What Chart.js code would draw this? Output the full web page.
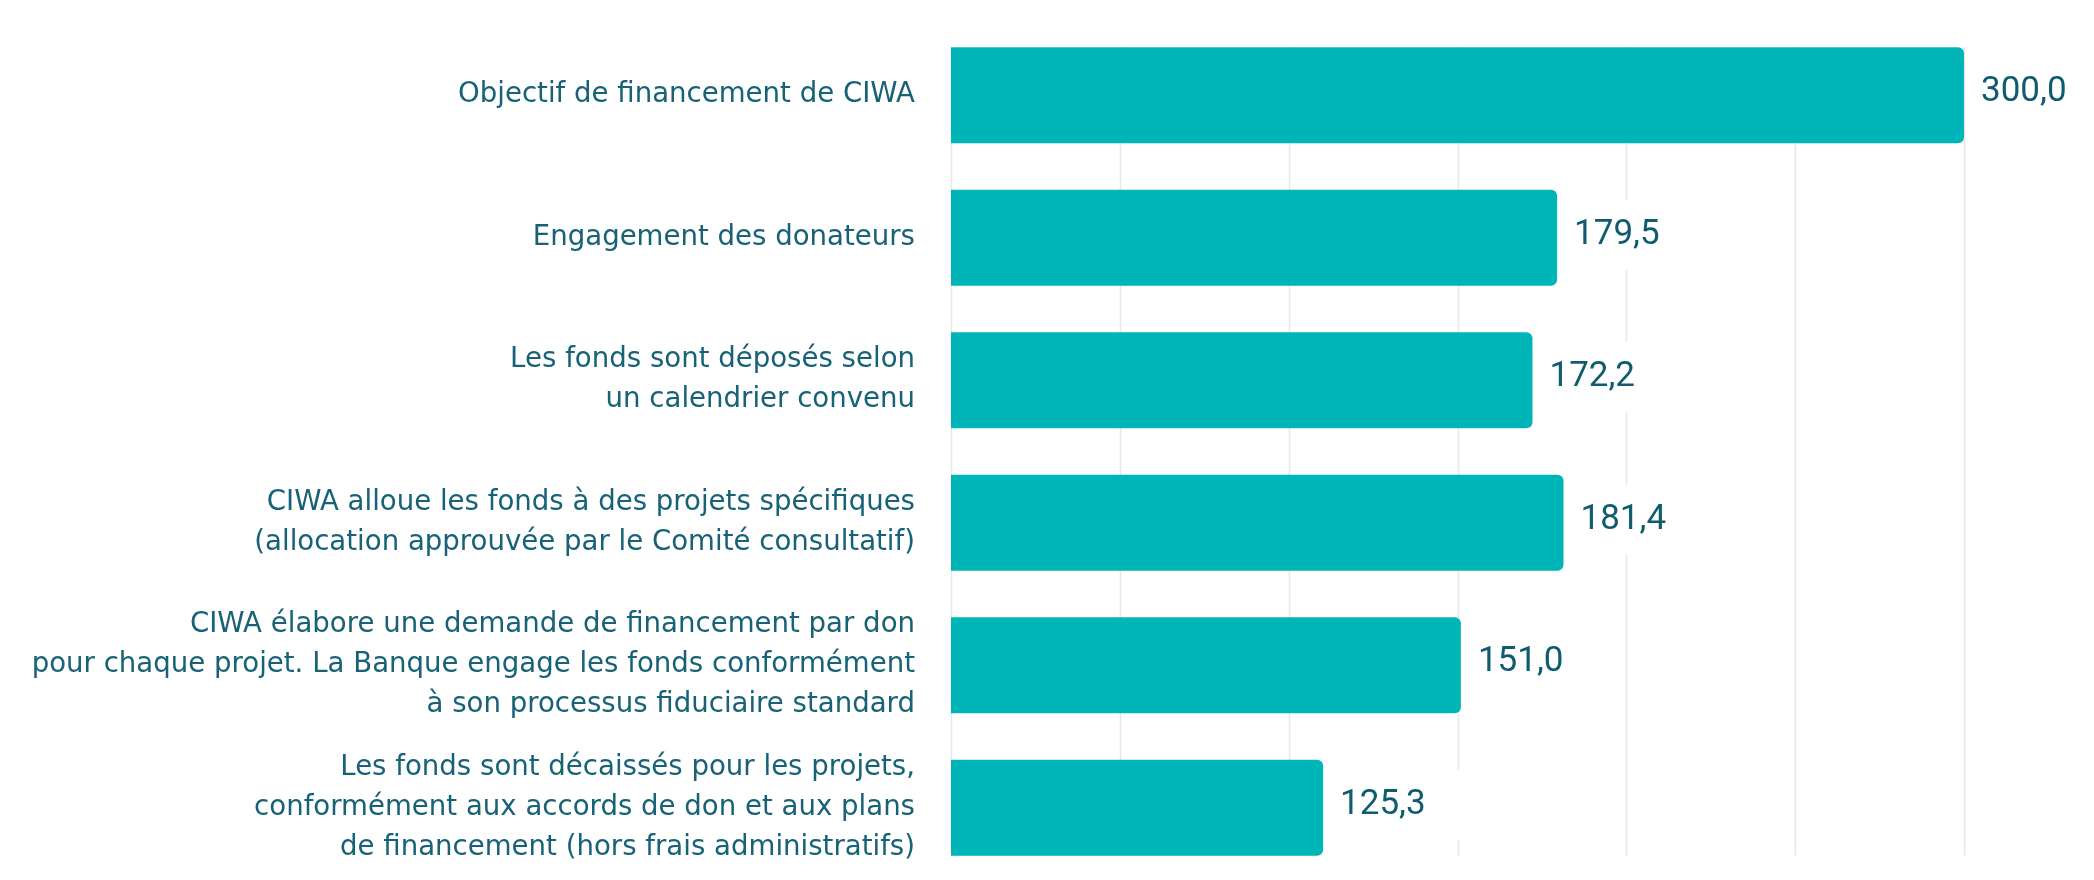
<!DOCTYPE html>
<html lang="fr">
<head>
    <meta charset="UTF-8">
    <title>Financement CIWA</title>
    <script src="https://cdn.jsdelivr.net/npm/chart.js"></script>
    <style>
        html, body {
            margin: 0;
            padding: 0;
            background: #ffffff;
        }
        canvas {
            display: block;
        }
    </style>
</head>
<body>
    <canvas id="fundsChart" width="2094" height="880"></canvas>

    <script>
        // Données (millions)
        const categories = [
            'Objectif de financement de CIWA',
            'Engagement des donateurs',
            ['Les fonds sont déposés selon', 'un calendrier convenu'],
            ['CIWA alloue les fonds à des projets spécifiques', '(allocation approuvée par le Comité consultatif)'],
            ['CIWA élabore une demande de financement par don', 'pour chaque projet. La Banque engage les fonds conformément', 'à son processus fiduciaire standard'],
            ['Les fonds sont décaissés pour les projets,', 'conformément aux accords de don et aux plans', 'de financement (hors frais administratifs)']
        ];
        // longueur des barres telle que dessinée (la dernière est plus courte que son étiquette)
        const barValues = [300.0, 179.5, 172.2, 181.4, 151.0, 110.2];
        const valueLabels = ['300,0', '179,5', '172,2', '181,4', '151,0', '125,3'];
        const gridTicks = [0, 50, 100, 150, 200, 250, 300];

        const barColor = '#00b5b8';
        const textColor = '#176276';
        const valueColor = '#0e5c6e';

        // lignes de grille verticales, seulement entre la première et la dernière barre
        const gridPlugin = {
            id: 'gridBetweenBars',
            beforeDatasetsDraw(chart) {
                const meta = chart.getDatasetMeta(0);
                const first = meta.data[0];
                const last = meta.data[meta.data.length - 1];
                const top = first.y - first.height / 2;
                const bottom = last.y + last.height / 2;
                const ctx = chart.ctx;
                const xScale = chart.scales.x;
                ctx.save();
                ctx.strokeStyle = '#e8e8e8';
                ctx.lineWidth = 1.5;
                gridTicks.forEach(function(v) {
                    const x = Math.round(xScale.getPixelForValue(v)) + 0.5;
                    ctx.beginPath();
                    ctx.moveTo(x, top);
                    ctx.lineTo(x, bottom);
                    ctx.stroke();
                });
                ctx.restore();
            }
        };

        // étiquettes de valeur avec fond blanc
        const valuePlugin = {
            id: 'valueLabels',
            afterDatasetsDraw(chart) {
                const meta = chart.getDatasetMeta(0);
                const ctx = chart.ctx;
                ctx.save();
                ctx.font = '35px Roboto';
                ctx.textBaseline = 'middle';
                ctx.textAlign = 'left';
                meta.data.forEach(function(bar, i) {
                    const text = valueLabels[i];
                    const w = ctx.measureText(text).width;
                    const x = bar.x + 17;
                    const y = bar.y - 3;
                    ctx.fillStyle = '#ffffff';
                    ctx.fillRect(bar.x + 1, y - 35, w + 52, 70);
                    ctx.fillStyle = valueColor;
                    ctx.fillText(text, x, y);
                });
                ctx.restore();
            }
        };

        Chart.defaults.font.family = "'DejaVu Sans', sans-serif";

        const ctx = document.getElementById('fundsChart').getContext('2d');
        const fundsChart = new Chart(ctx, {
            type: 'bar',
            data: {
                labels: categories,
                datasets: [{
                    data: barValues,
                    backgroundColor: barColor,
                    borderRadius: 6,
                    barPercentage: 0.673,
                    categoryPercentage: 1
                }]
            },
            options: {
                indexAxis: 'y',
                responsive: false,
                animation: false,
                layout: {
                    padding: { top: 24, bottom: 1, left: 0, right: 130 }
                },
                plugins: {
                    legend: { display: false },
                    tooltip: { enabled: false }
                },
                scales: {
                    x: {
                        display: false,
                        min: 0,
                        max: 300,
                        ticks: { stepSize: 50 }
                    },
                    y: {
                        grid: { display: false },
                        border: { display: false },
                        ticks: {
                            color: textColor,
                            padding: 28,
                            font: { size: 27.6, lineHeight: 1.45 }
                        },
                        afterFit: function(scale) {
                            scale.width = 951;
                            scale.paddingTop = 0;
                            scale.paddingBottom = 0;
                        }
                    }
                }
            },
            plugins: [gridPlugin, valuePlugin]
        });
    </script>
</body>
</html>
